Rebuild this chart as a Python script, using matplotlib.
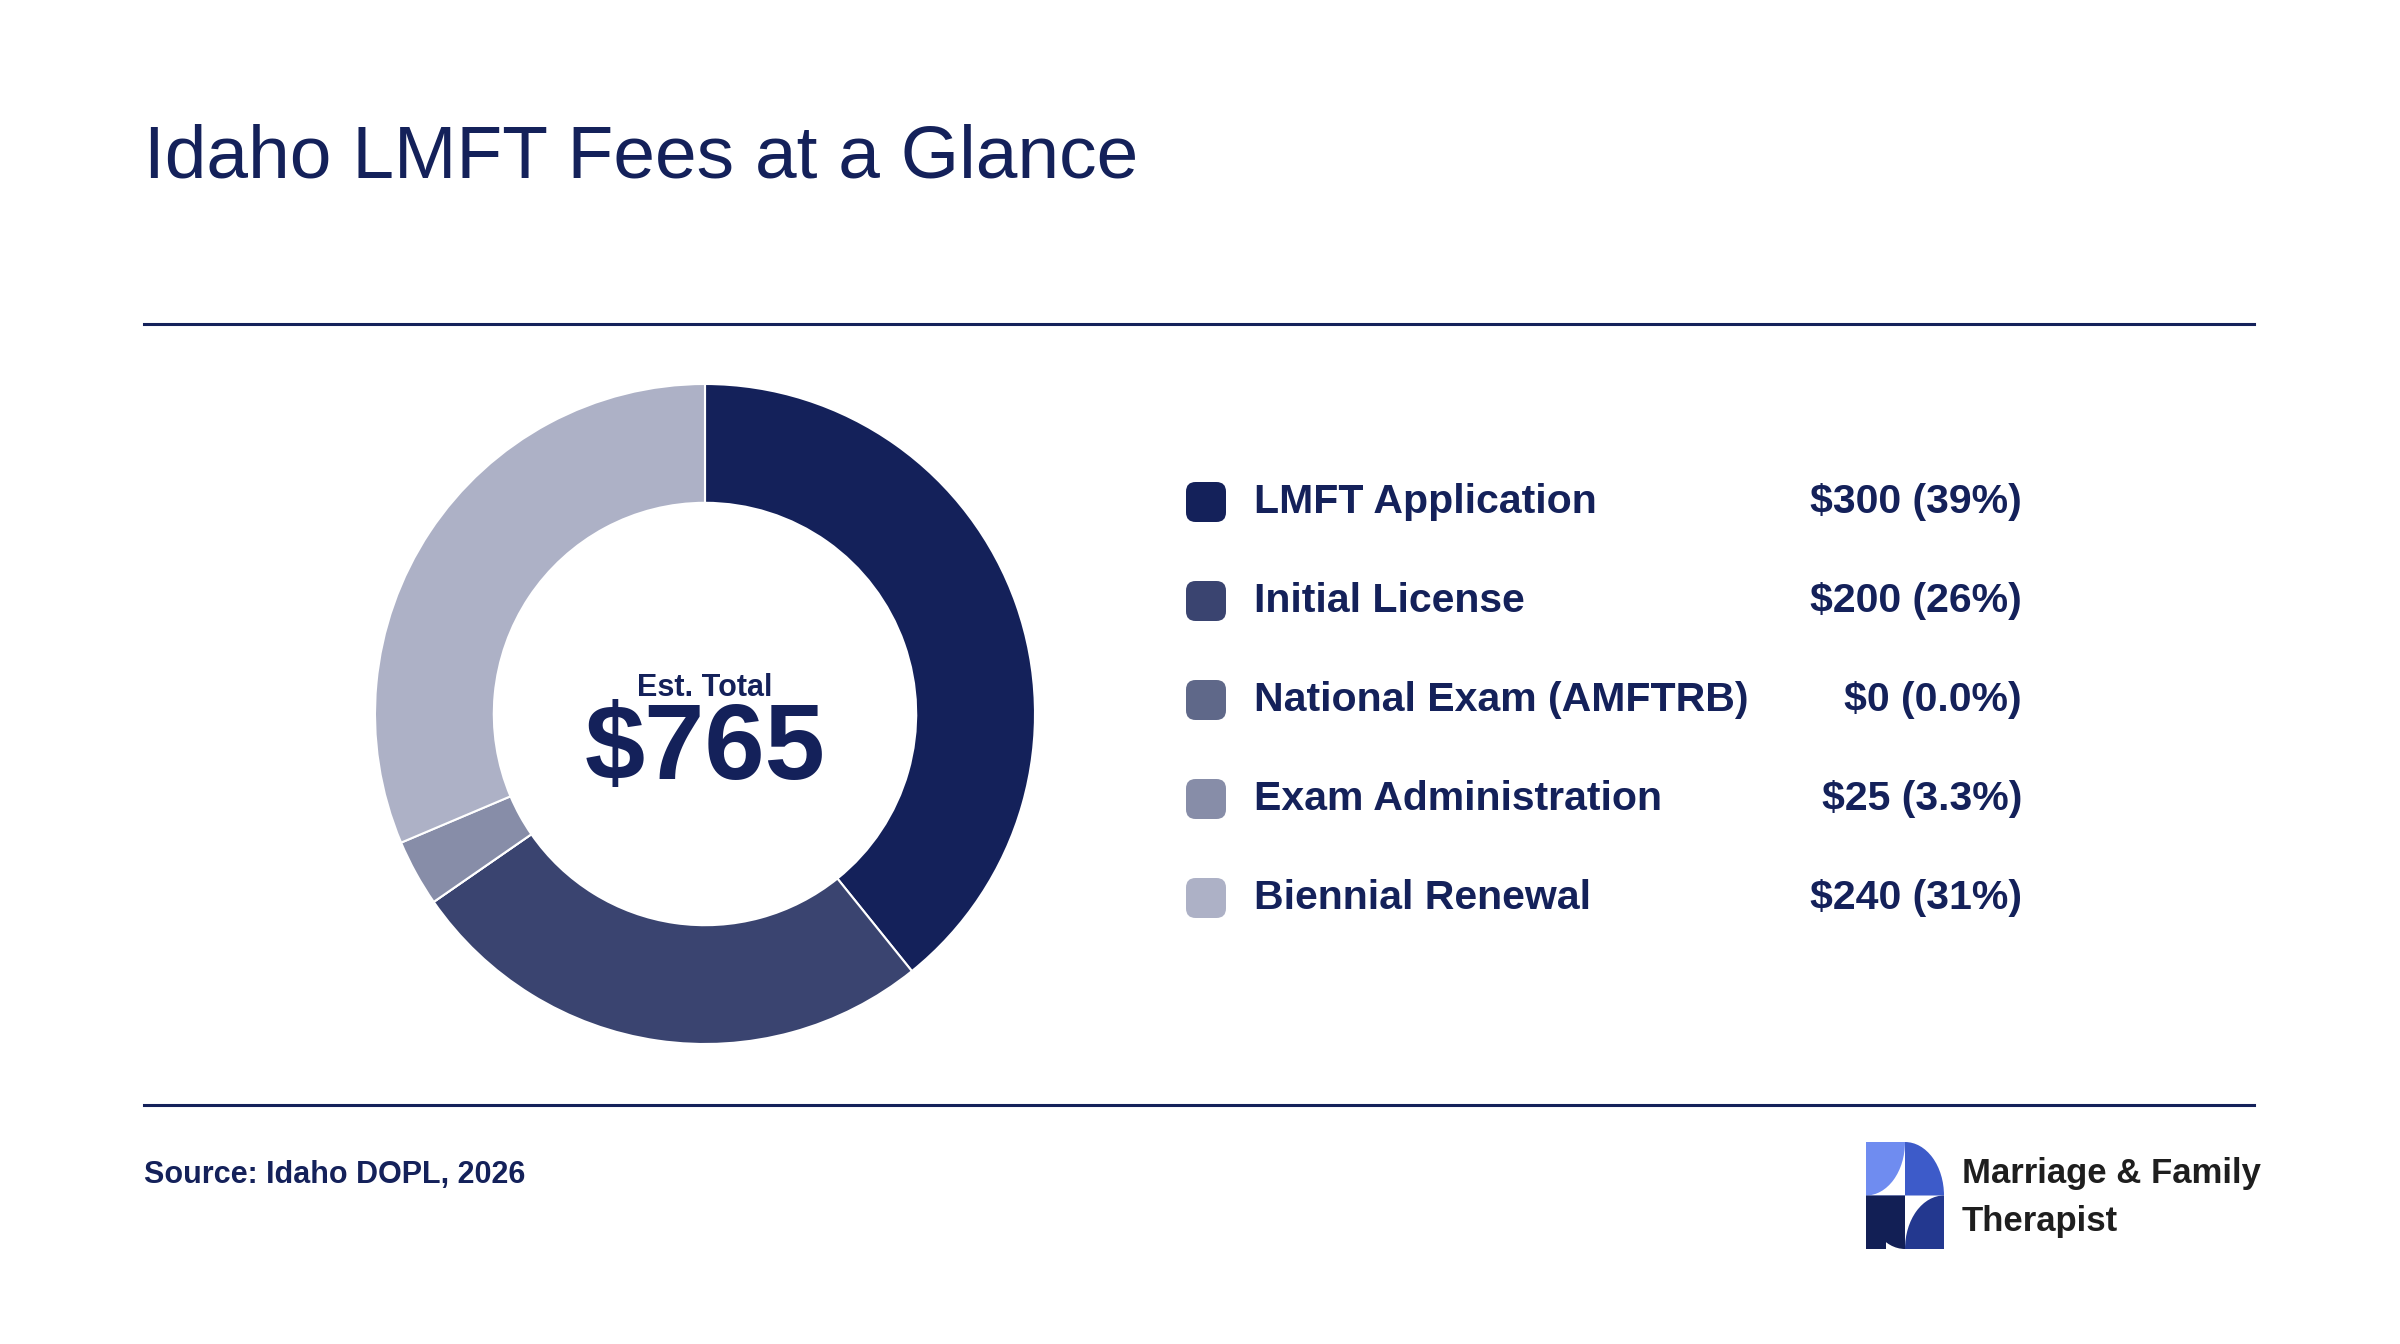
import matplotlib
matplotlib.use("Agg")
import matplotlib.pyplot as plt
from matplotlib.patches import Wedge, FancyBboxPatch, Ellipse
from matplotlib.lines import Line2D

categories = ["LMFT Application", "Initial License", "National Exam (AMFTRB)", "Exam Administration", "Biennial Renewal"]
values = [300, 200, 0, 25, 240]
value_labels = ["$300 (39%)", "$200 (26%)", "$0 (0.0%)", "$25 (3.3%)", "$240 (31%)"]
colors = ["#14215a", "#3a4470", "#5f6889", "#878da8", "#adb1c6"]
total_label = "$765"

plt.rcParams['font.family'] = ['Liberation Sans', 'DejaVu Sans']
W, H = 2400, 1344
fig = plt.figure(figsize=(24, 13.44), dpi=100)
fig.patch.set_facecolor("white")
navy = "#14215a"

def fx(x): return x / W
def fy(y): return 1 - y / H

fig.text(fx(144), fy(158), "Idaho LMFT Fees at a Glance", fontsize=54, color=navy, va="center", ha="left")
for y in (324, 1105):
    fig.add_artist(Line2D([fx(144), fx(2254)], [fy(y), fy(y)], color=navy, lw=2.2))

cx, cy, r = 705, 714, 330
ax = fig.add_axes([fx(cx - r), fy(cy + r), 2 * r / W, 2 * r / H])
ax.pie(values, colors=colors, startangle=90, counterclock=False,
       wedgeprops=dict(width=0.36, edgecolor="white", linewidth=1.5))
ax.set_xlim(-1, 1); ax.set_ylim(-1, 1); ax.set_aspect("auto")
ax.axis("off")
fig.text(fx(cx), fy(688), "Est. Total", fontsize=22, fontweight="bold", color=navy, ha="center", va="center")
fig.text(fx(cx), fy(751), total_label, fontsize=78, fontweight="bold", color=navy, ha="center", va="center")

rows = [502, 601, 700, 799, 898]
for y, c, lab, vl in zip(rows, colors, categories, value_labels):
    fig.add_artist(FancyBboxPatch((fx(1186), fy(y + 20)), 40 / W, 40 / H,
                                  boxstyle="round,pad=0,rounding_size=0.004", transform=fig.transFigure,
                                  facecolor=c, edgecolor="none", mutation_aspect=W / H))
    fig.text(fx(1254), fy(y), lab, fontsize=29.5, fontweight="bold", color=navy, ha="left", va="center")
    fig.text(fx(2022), fy(y), vl, fontsize=29.5, fontweight="bold", color=navy, ha="right", va="center")

fig.text(fx(144), fy(1175), "Source: Idaho DOPL, 2026", fontsize=22, fontweight="bold", color=navy, ha="left", va="center")

# logo (78 x 107 px)
lx0, ly0, lw, lh = 1866, 1142, 78, 107
lax = fig.add_axes([fx(lx0), fy(ly0 + lh), lw / W, lh / H])
lax.set_xlim(0, 2); lax.set_ylim(0, 2); lax.axis("off")
lax.add_patch(plt.Rectangle((0, 1), 1, 1, facecolor="#6f8cf0"))
lax.add_patch(Ellipse((1, 1), 0.0, 0.0))
lax.add_patch(Wedge((1, 1), 1, 90, 180, facecolor="white"))
lax.add_patch(Wedge((0, 2), 1, 270, 360, facecolor="#6f8cf0"))
lax.add_patch(Wedge((1, 1), 1, 0, 90, facecolor="#3d5bc9"))
lax.add_patch(Wedge((1, 1), 1, 180, 270, facecolor="#121f55"))
lax.add_patch(plt.Rectangle((0, 0), 0.5, 1, facecolor="#121f55"))
lax.add_patch(Wedge((2, 0), 1, 90, 180, facecolor="#23388f"))
fig.text(fx(1962), fy(1173), "Marriage & Family", fontsize=25, fontweight="bold", color="#1e1e1e", ha="left", va="center")
fig.text(fx(1962), fy(1221), "Therapist", fontsize=25, fontweight="bold", color="#1e1e1e", ha="left", va="center")

fig.savefig("out.png", dpi=100, facecolor="white")
